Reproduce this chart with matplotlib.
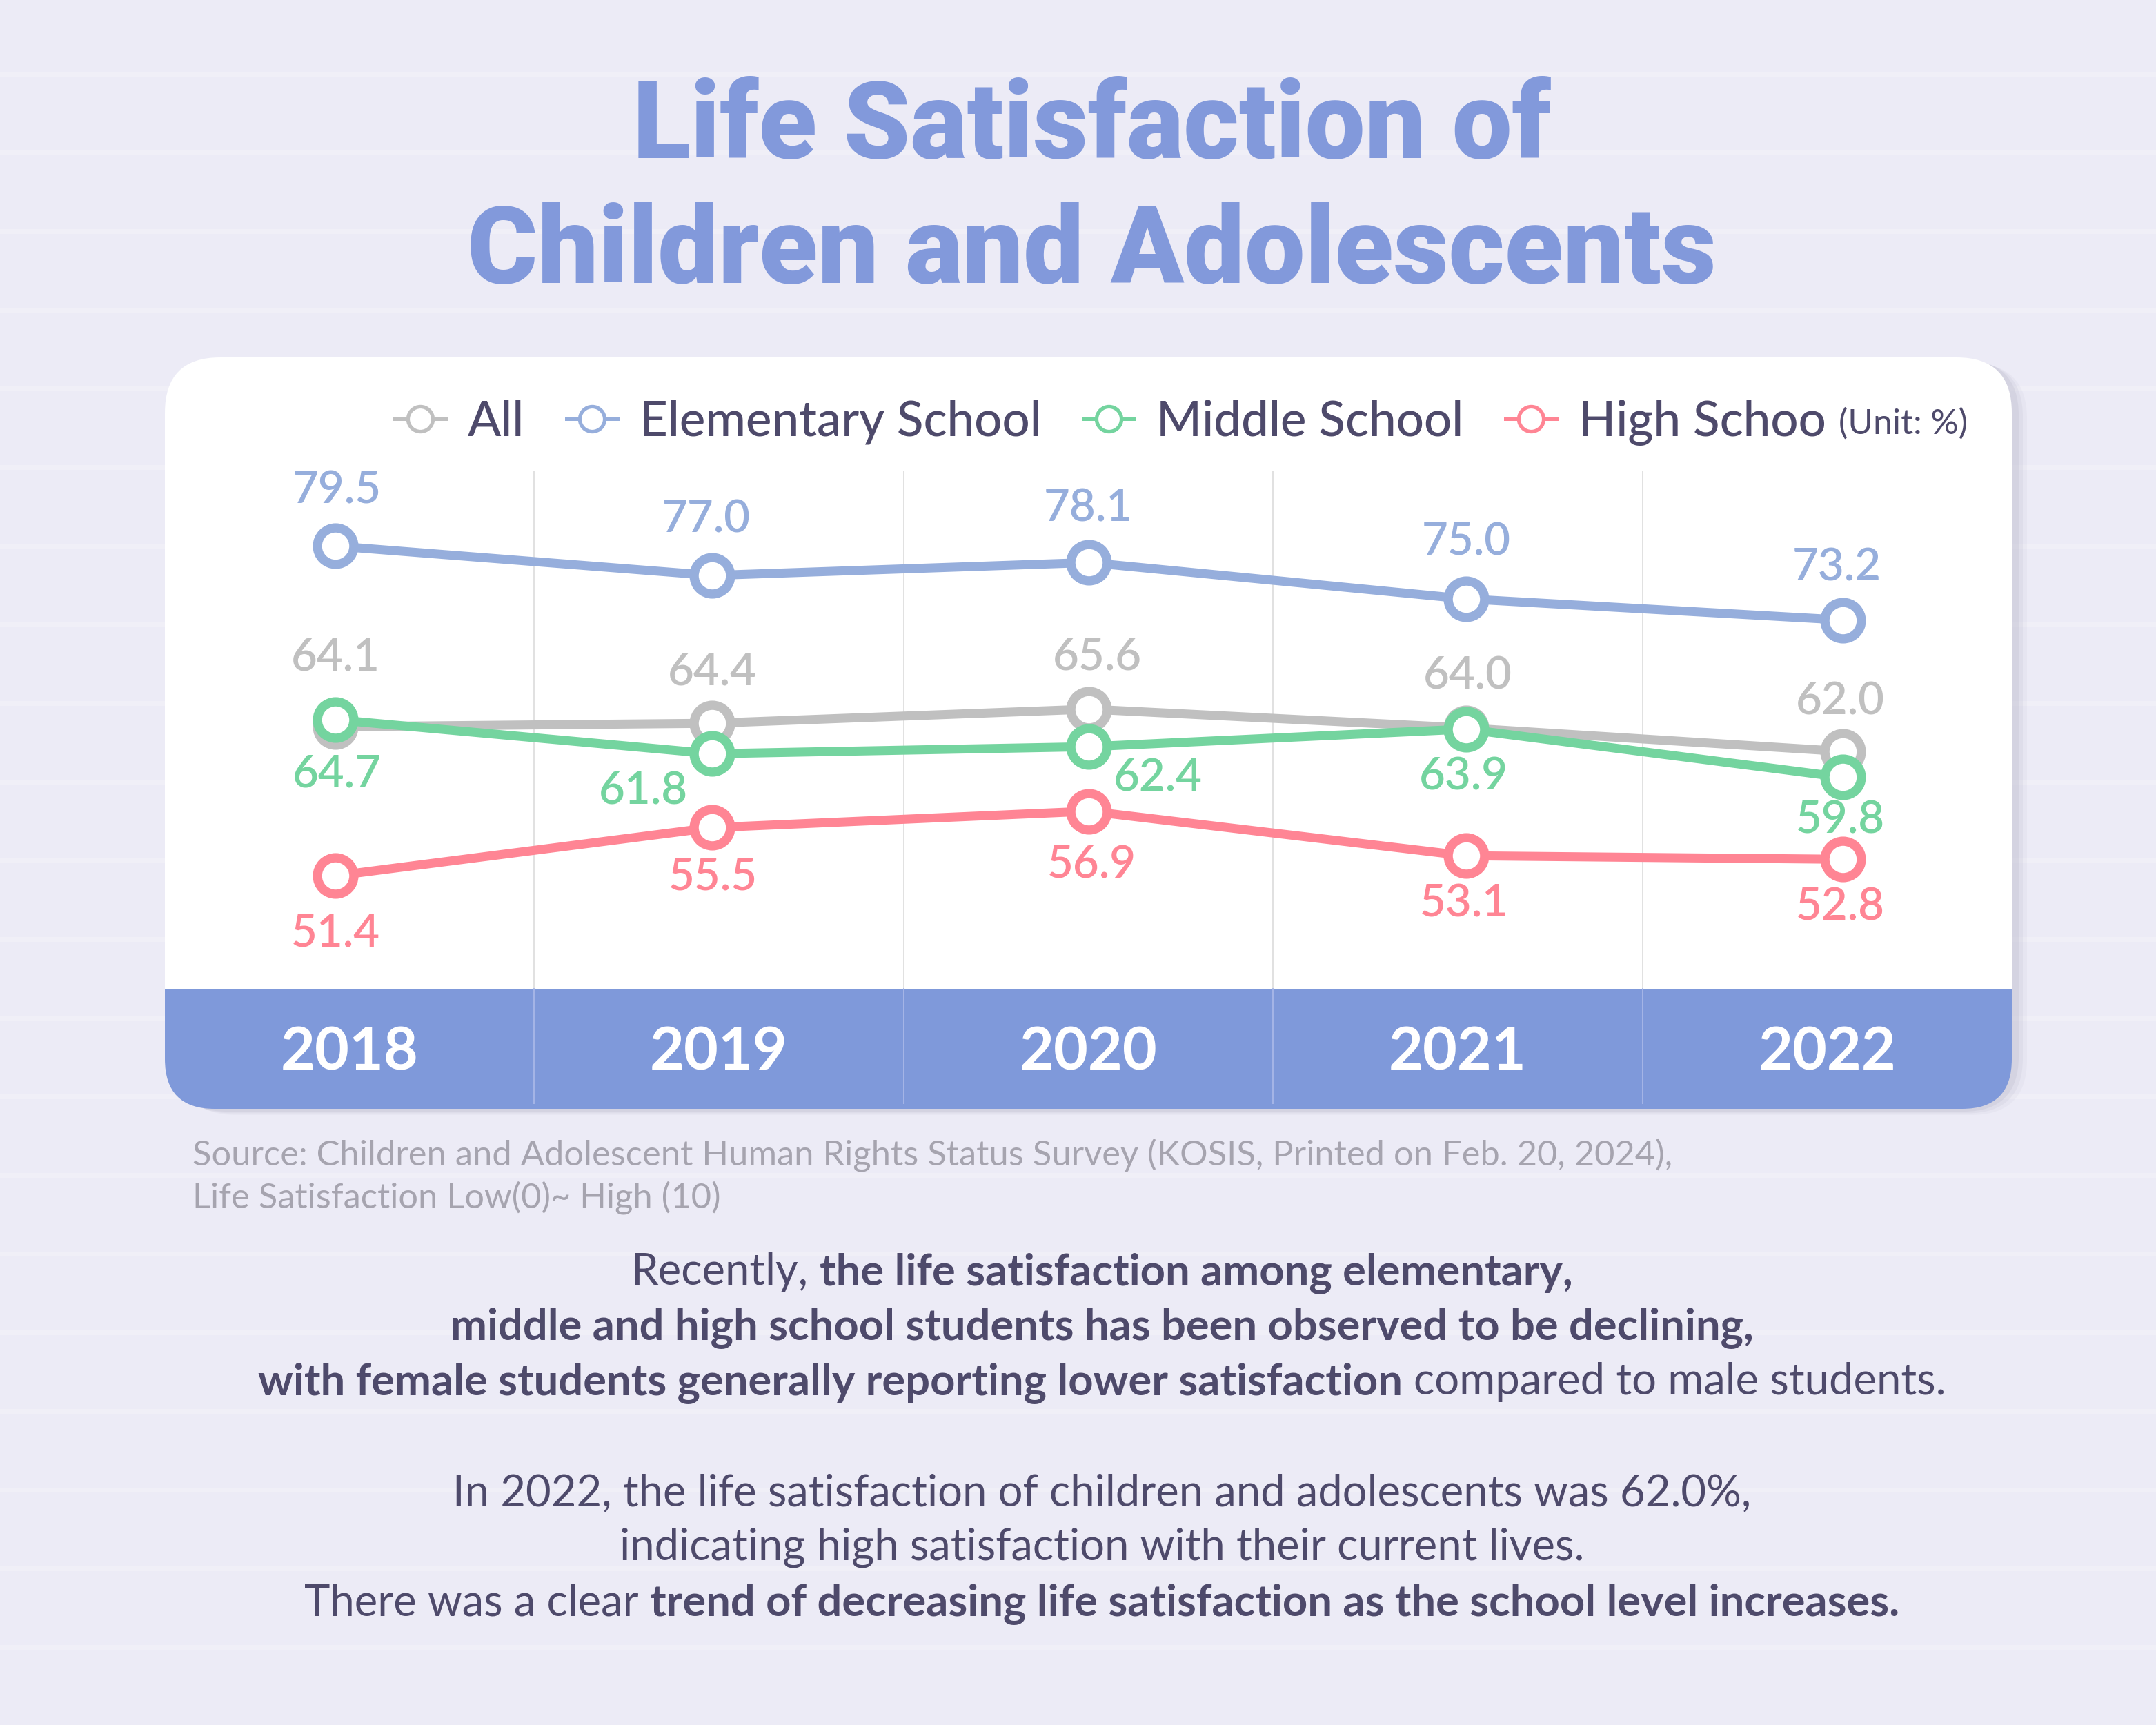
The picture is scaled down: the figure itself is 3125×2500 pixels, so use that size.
import matplotlib
matplotlib.use("Agg")
import matplotlib.pyplot as plt
from matplotlib.patches import FancyBboxPatch, Rectangle
from matplotlib.lines import Line2D
import numpy as np

# ---------------- data ----------------
years = ["2018", "2019", "2020", "2021", "2022"]
all_vals = [64.1, 64.4, 65.6, 64.0, 62.0]
elementary_vals = [79.5, 77.0, 78.1, 75.0, 73.2]
middle_vals = [64.7, 61.8, 62.4, 63.9, 59.8]
high_vals = [51.4, 55.5, 56.9, 53.1, 52.8]
series_names = ["All", "Elementary School", "Middle School", "High Schoo"]
unit_text = "(Unit: %)"
title_lines = ["Life Satisfaction of", "Children and Adolescents"]
source_lines = ["Source: Children and Adolescent Human Rights Status Survey (KOSIS, Printed on Feb. 20, 2024),",
                "Life Satisfaction Low(0)~ High (10)"]
body_lines = [
    [("Recently,", "normal"), ("the life satisfaction among elementary,", "bold")],
    [("middle and high school students has been observed to be declining,", "bold")],
    [("with female students generally reporting lower satisfaction", "bold"), ("compared to male students.", "normal")],
    None,
    [("In 2022, the life satisfaction of children and adolescents was 62.0%,", "normal")],
    [("indicating high satisfaction with their current lives.", "normal")],
    [("There was a clear", "normal"), ("trend of decreasing life satisfaction as the school level increases.", "bold")],
]

# ---------------- style ----------------
W, H = 3125, 2500
BG = "#ecebf6"
TITLE_C = "#8299db"
BAND_C = "#7f99da"
DARK = "#4e4a6b"
SRC_C = "#a6a4af"
colors = ["#c0c0c0", "#96aedc", "#74d49f", "#ff8594"]
FONT = ["Lato", "DejaVu Sans"]
TITLE_FONT = ["Roboto", "Lato", "DejaVu Sans"]
# label offsets in pixels (dx, dy up)
offsets = [
    [(0, 100), (0, 74), (12, 76), (3, 75), (-3, 72)],
    [(2, 80), (-9, 81), (-1, 78), (1, 82), (-8, 76)],
    [(2, -79), (-100, -55), (100, -46), (-3, -69), (-3, -63)],
    [(0, -84), (1, -72), (4, -78), (-2, -70), (-3, -70)],
]

fig = plt.figure(figsize=(W / 100, H / 100), dpi=100)
fig.patch.set_facecolor(BG)
renderer = fig.canvas.get_renderer()


def fx(px):
    return px / W


def fy(py):
    return 1 - py / H


# background / panel layer in pixel coordinates
ax_bg = fig.add_axes([0, 0, 1, 1], zorder=0)
ax_bg.set_xlim(0, W)
ax_bg.set_ylim(H, 0)
ax_bg.axis("off")
for yy in range(107, H, 114):
    ax_bg.axhline(yy, color="white", alpha=0.22, lw=5, zorder=0.2)

PX0, PX1, PY0, PY1 = 239, 2916, 518, 1607
BAND_TOP = 1433
# shadow
for off, a in [(22, 0.10), (16, 0.16), (10, 0.25)]:
    ax_bg.add_patch(FancyBboxPatch((PX0 + off, PY0 + off * 0.4), PX1 - PX0, PY1 - PY0,
                                   boxstyle="round,pad=0,rounding_size=80",
                                   fc="#b8b6c8", ec="none", alpha=a, zorder=1))
ax_bg.add_patch(FancyBboxPatch((PX0, PY0), PX1 - PX0, PY1 - PY0,
                               boxstyle="round,pad=0,rounding_size=80", fc="white", ec="none", zorder=2))
ax_bg.add_patch(FancyBboxPatch((PX0, BAND_TOP), PX1 - PX0, PY1 - BAND_TOP,
                               boxstyle="round,pad=0,rounding_size=72", fc=BAND_C, ec="none", zorder=3))
ax_bg.add_patch(Rectangle((PX0, BAND_TOP), PX1 - PX0, 90, fc=BAND_C, ec="none", zorder=3))

# column grid + year band
GRID_TOP, GRID_BOT = 682, 1600
ax_grid = fig.add_axes([fx(PX0), fy(GRID_BOT), (PX1 - PX0) / W, (GRID_BOT - GRID_TOP) / H], zorder=1)
ax_grid.set_xlim(0, len(years))
ax_grid.set_ylim(GRID_BOT, GRID_TOP)
ax_grid.axis("off")
ax_grid.patch.set_alpha(0)
for i in range(1, len(years)):
    ax_grid.plot([i, i], [GRID_TOP, BAND_TOP], color="#dedede", lw=1.3)
    ax_grid.plot([i, i], [BAND_TOP, GRID_BOT], color="#a9b8e8", lw=1.3)
for i, yr in enumerate(years):
    ax_grid.text(i + 0.5, 1526, yr, ha="center", va="center", color="white",
                 fontsize=62, fontweight="bold", family=FONT)

# main line axes
ax = fig.add_axes([fx(PX0), fy(BAND_TOP), (PX1 - PX0) / W, (BAND_TOP - GRID_TOP) / H], zorder=3)
ax.set_xlim(-0.452, 4.449)
ax.set_ylim(41.76, 85.94)
ax.axis("off")
ax.patch.set_alpha(0)
x = np.arange(len(years))
series = [all_vals, elementary_vals, high_vals, middle_vals]
order = [0, 1, 3, 2]
for idx, vals in zip(order, series):
    c = colors[idx]
    ax.plot(x, vals, color=c, lw=9.4, marker="o", ms=38, mew=9.6, mfc="white", mec=c,
            solid_joinstyle="round", clip_on=False)
    for xi, v, (dx, dy) in zip(x, vals, offsets[idx]):
        ax.annotate(f"{v:.1f}", (xi, v), xytext=(dx * 0.72, dy * 0.72), textcoords="offset points",
                    ha="center", va="center", fontsize=47, color=c, fontweight="semibold", family=FONT)

# legend
handles = [Line2D([], [], color=c, lw=3.6, marker="o", ms=26, mew=3.8, mfc="white", mec=c) for c in colors]
leg = fig.legend(handles, series_names, ncol=4, loc="center left", bbox_to_anchor=(fx(572), fy(612)),
                 frameon=False, borderpad=0, borderaxespad=0, handlelength=1.05, handletextpad=0.45,
                 columnspacing=0.85, prop=dict(family=FONT, weight="medium", size=51), labelcolor=DARK)
fig.canvas.draw()
lb = leg.get_window_extent(renderer)
fig.text(lb.x1 / W + fx(18), fy(614), unit_text, ha="left", va="center", fontsize=36,
         color=DARK, family=FONT, fontweight="normal")

# title (fit to widths)
title_targets = [(229, 1331), (410, 1810)]
for line, (base, target_w) in zip(title_lines, title_targets):
    t = fig.text(fx(1582), fy(base), line, ha="center", va="baseline", fontsize=100,
                 fontweight="black", color=TITLE_C, family=TITLE_FONT)
    w = t.get_window_extent(renderer).width
    t.set_fontsize(min(100 * target_w / w, 114))

# source
st = fig.text(fx(279), fy(1688), source_lines[0], ha="left", va="baseline", fontsize=33,
              color=SRC_C, family=FONT, fontweight="normal")
w = st.get_window_extent(renderer).width
src_size = 33 * 2144 / w
st.set_fontsize(src_size)
fig.text(fx(279), fy(1750), source_lines[1], ha="left", va="baseline", fontsize=src_size,
         color=SRC_C, family=FONT, fontweight="normal")


# body text with mixed weights
def seg_width(s, wgt, size):
    t = fig.text(0, 0, s, fontsize=size, fontweight=wgt, family=FONT)
    w = t.get_window_extent(renderer).width
    t.remove()
    return w


def line_width(segs, size):
    sp = seg_width("a a", "normal", size) - seg_width("aa", "normal", size)
    return sum(seg_width(s, w, size) for s, w in segs) + sp * (len(segs) - 1), sp


base_size = 38
w3, _ = line_width(body_lines[2], base_size)
body_size = base_size * 2446 / w3
baselines = [1862, 1941, 2021, 2101, 2182, 2261, 2341]
CX = 1597
for segs, base in zip(body_lines, baselines):
    if segs is None:
        continue
    total, sp = line_width(segs, body_size)
    xpos = CX - total / 2
    for s, wgt in segs:
        fig.text(fx(xpos), fy(base), s, ha="left", va="baseline", fontsize=body_size,
                 fontweight=wgt, color=DARK, family=FONT)
        xpos += seg_width(s, wgt, body_size) + sp

fig.savefig("out.png", dpi=100, facecolor=BG)
